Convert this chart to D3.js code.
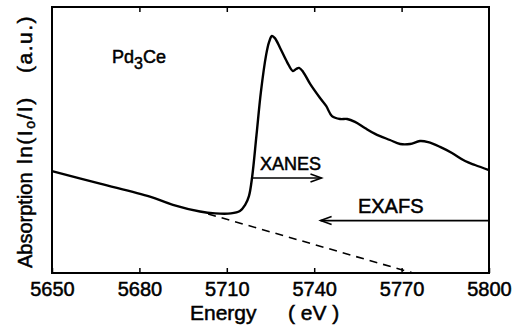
<!DOCTYPE html>
<html>
<head>
<meta charset="utf-8">
<script src="https://cdn.jsdelivr.net/npm/d3@7"></script>
<style>
  body { margin: 0; background: #fff; }
  svg { display: block; }
  text { font-family: "Liberation Sans", Arial, sans-serif; fill: #000; stroke: #000; stroke-width: 0.5px; }
</style>
</head>
<body>
<svg width="522" height="328"></svg>
<script>
// measured spectrum, Pd3Ce Ce L-edge (absorption in arbitrary units)
var energy = [5650, 5666.5, 5683.6, 5691.5, 5700.8, 5706.0, 5711.4, 5714.5, 5716.3, 5717.6,
  5718.7, 5720.2, 5721.7, 5723.5, 5724.5, 5725.5, 5726.5, 5728.3, 5730.7, 5732.7,
  5733.8, 5734.8, 5736.2, 5738.6, 5742.0, 5744.1, 5746.1, 5748.9, 5751.3, 5754.0,
  5757.4, 5760.9, 5766.0, 5769.5, 5772.9, 5776.3, 5779.1, 5783.2, 5787.3, 5791.8,
  5795.2, 5800];
var absorption = [38.3, 33.6, 28.7, 25.6, 23.1, 22.4, 22.4, 23.3, 25.6, 28.9,
  36.1, 51.9, 68.0, 82.0, 86.8, 89.1, 88.3, 84.6, 79.3, 75.9,
  76.7, 77.1, 75.6, 71.1, 65.8, 62.8, 59.0, 57.9, 57.9, 56.8,
  54.5, 52.3, 50.0, 48.5, 48.5, 49.6, 49.2, 47.4, 45.1, 42.1,
  40.6, 38.7];

// pre-edge background extrapolation (dashed)
var bgEnergy = [5703.6, 5773.9];
var bgAbsorption = [22.2, 0];

var xTicks = [5650, 5680, 5710, 5740, 5770, 5800];

// region arrows: [from, to, level]
var xanesArrow = [5718.8, 5742.5, 35.7];
var exafsArrow = [5800, 5742.2, 19.7];

var svg = d3.select("svg");
var plotL = 52, plotR = 489, plotT = 7, plotB = 273;

var x = d3.scaleLinear().domain([5650, 5800]).range([plotL, plotR]);
var y = d3.scaleLinear().domain([0, 100]).range([plotB, plotT]);

// frame
svg.append("rect")
  .attr("x", plotL).attr("y", plotT)
  .attr("width", plotR - plotL).attr("height", plotB - plotT)
  .attr("fill", "none").attr("stroke", "#000").attr("stroke-width", 2);

// ticks, inward on bottom and top
svg.append("g")
  .attr("transform", "translate(0," + plotB + ")")
  .call(d3.axisBottom(x).tickValues(xTicks).tickSize(-5).tickPadding(9).tickFormat(d3.format("d")))
  .call(function(g) {
    g.select(".domain").remove();
    g.selectAll("line").attr("stroke-width", 1.5);
    g.selectAll("text").attr("font-size", 20).attr("font-family", null);
  });

svg.append("g")
  .attr("transform", "translate(0," + plotT + ")")
  .call(d3.axisTop(x).tickValues(xTicks.slice(1, -1)).tickSize(-5).tickFormat(""))
  .call(function(g) {
    g.select(".domain").remove();
    g.selectAll("line").attr("stroke-width", 1.5);
  });

// spectrum
var pts = energy.map(function(e, i) { return [e, absorption[i]]; });
var line = d3.line()
  .x(function(d) { return x(d[0]); })
  .y(function(d) { return y(d[1]); })
  .curve(d3.curveCatmullRom.alpha(0.5));

svg.append("path")
  .datum(pts)
  .attr("d", line)
  .attr("fill", "none").attr("stroke", "#000").attr("stroke-width", 2.4)
  .attr("stroke-linejoin", "round");

svg.append("path")
  .datum(bgEnergy.map(function(e, i) { return [e, bgAbsorption[i]]; }))
  .attr("d", d3.line().x(function(d) { return x(d[0]); }).y(function(d) { return y(d[1]); }))
  .attr("fill", "none").attr("stroke", "#000").attr("stroke-width", 1.6)
  .attr("stroke-dasharray", "8,6");

// arrows
function arrow(a) {
  var x0 = x(a[0]), x1 = x(a[1]), yy = y(a[2]);
  var dir = x1 > x0 ? -1 : 1;
  svg.append("line")
    .attr("x1", x0).attr("x2", x1).attr("y1", yy).attr("y2", yy)
    .attr("stroke", "#000").attr("stroke-width", 1.6);
  svg.append("path")
    .attr("d", "M" + (x1 + dir * 11) + "," + (yy - 4) + "L" + x1 + "," + yy + "L" + (x1 + dir * 11) + "," + (yy + 4))
    .attr("fill", "none").attr("stroke", "#000").attr("stroke-width", 1.6);
}
arrow(xanesArrow);
arrow(exafsArrow);

svg.append("text").attr("x", x(5721.4)).attr("y", y(38.7))
  .attr("font-size", 18).text("XANES");
svg.append("text").attr("x", x(5755)).attr("y", y(22.6))
  .attr("font-size", 20).text("EXAFS");

var lbl = svg.append("text").attr("x", x(5670.6)).attr("y", y(79)).attr("font-size", 18);
lbl.append("tspan").text("Pd");
lbl.append("tspan").attr("dy", 6).attr("font-size", 16).text("3");
lbl.append("tspan").attr("dy", -6).text("Ce");

// axis titles
svg.append("text").attr("x", 190).attr("y", 320).attr("font-size", 21).text("Energy");
svg.append("text").attr("x", 288).attr("y", 320).attr("font-size", 21)
  .attr("xml:space", "preserve").text("( eV )");

var yg = svg.append("g").attr("transform", "translate(32,0) rotate(-90)");
yg.append("text").attr("x", -268).attr("font-size", 20).text("Absorption");
var ln = yg.append("text").attr("x", -164).attr("font-size", 21).attr("letter-spacing", 1.5);
ln.append("tspan").text("ln(I");
ln.append("tspan").attr("dy", 3).attr("font-size", 14).text("o");
ln.append("tspan").attr("dy", -3).text("/I)");
yg.append("text").attr("x", -15).attr("text-anchor", "end").attr("font-size", 21)
  .attr("letter-spacing", 1.5).text("(a.u.)");
</script>
</body>
</html>
